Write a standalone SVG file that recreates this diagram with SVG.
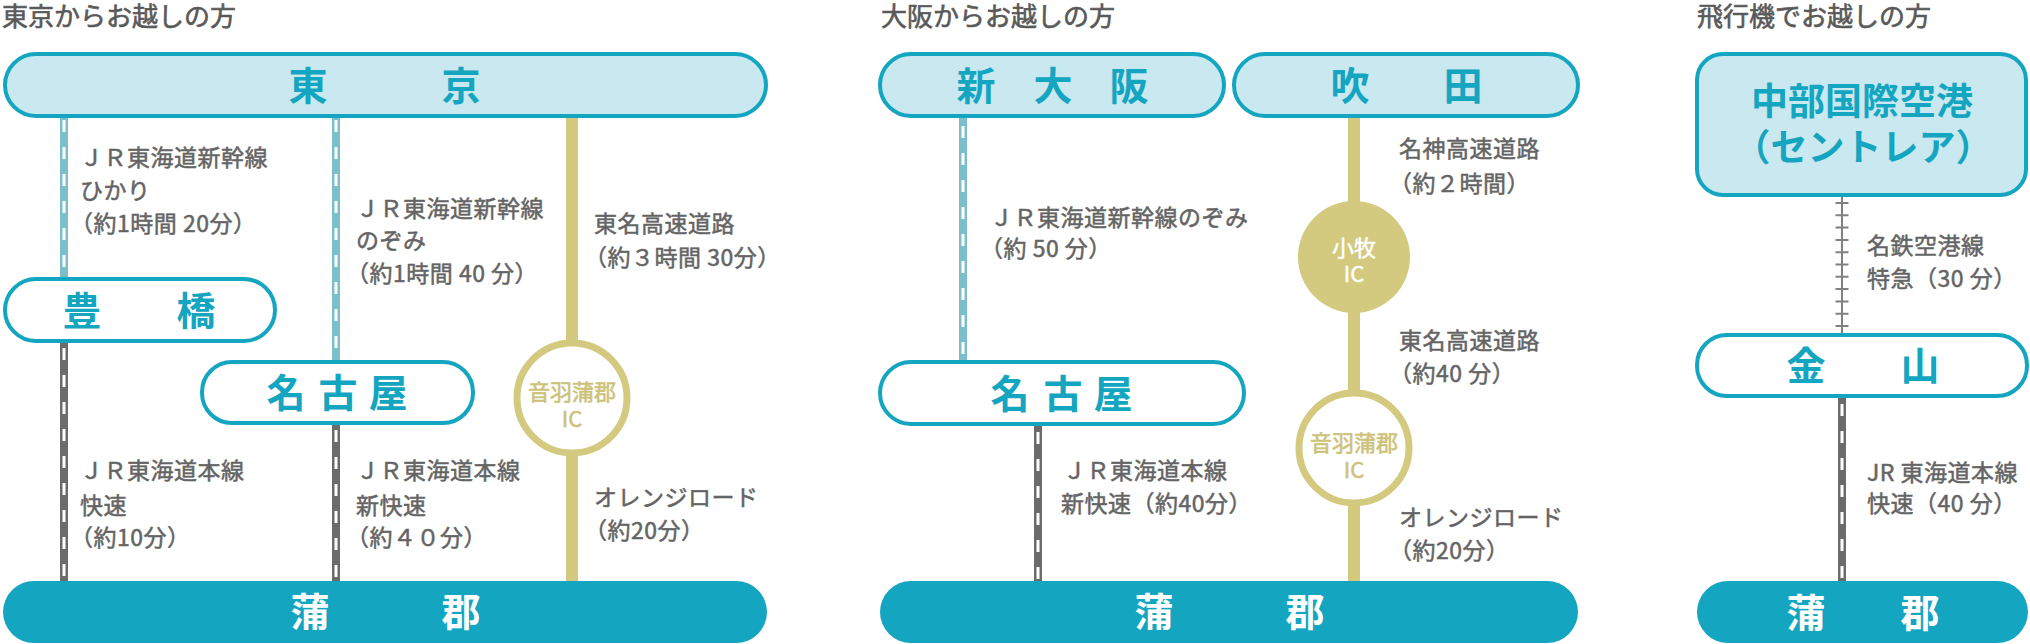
<svg xmlns="http://www.w3.org/2000/svg" width="2030" height="644" viewBox="0 0 2030 644">
<style>
text{font-family:"Noto Sans CJK JP","Noto Sans",sans-serif}
.hd{font-size:26px;fill:#595959;stroke:#595959;stroke-width:0.6px}
.lb{font-size:23px;fill:#646464;stroke:#646464;stroke-width:0.5px;letter-spacing:0.5px}
.st{font-size:39px;font-weight:700;fill:#14a5c0;text-anchor:middle}
.stw{font-size:39px;font-weight:700;fill:#fff;text-anchor:middle}
.box{stroke:#14a5c0;stroke-width:4;fill:#cae8ef}
.boxw{stroke:#14a5c0;stroke-width:4;fill:#fff}
.boxf{fill:#14a5c0}
.shk{stroke:#7bbfcb;stroke-width:8}
.hon{stroke:#6b6b6b;stroke-width:8}
.dash{stroke:#fff;stroke-width:3;stroke-dasharray:12 15}
.road{stroke:#d3ca80;stroke-width:12}
.ic{fill:#fff;stroke:#d3ca80;stroke-width:7}
.icf{fill:#d3ca80}
.ict{font-size:22px;fill:#cdc27a;stroke:#cdc27a;stroke-width:0.6px;text-anchor:middle}
.ictw{font-size:22px;fill:#fff;stroke:#fff;stroke-width:0.5px;text-anchor:middle}
.mei{stroke:#808080;stroke-width:2}
.tie{stroke:#808080;stroke-width:13;stroke-dasharray:2 10.3}
</style>

<g id="headings">
<text class="hd" x="2" y="26">東京からお越しの方</text>
<text class="hd" x="881" y="26">大阪からお越しの方</text>
<text class="hd" x="1697" y="26">飛行機でお越しの方</text>
</g>

<g id="connectors">
<line class="shk" x1="64" y1="118" x2="64" y2="277"/>
<line class="dash" x1="64" y1="120" x2="64" y2="277"/>
<line class="hon" x1="64" y1="343" x2="64" y2="581"/>
<line class="dash" x1="64" y1="348" x2="64" y2="581"/>
<line class="shk" x1="336" y1="118" x2="336" y2="360"/>
<line class="dash" x1="336" y1="120" x2="336" y2="360"/>
<line class="hon" x1="336" y1="425" x2="336" y2="581"/>
<line class="dash" x1="336" y1="430" x2="336" y2="581"/>
<line class="road" x1="572" y1="118" x2="572" y2="581"/>
<line class="shk" x1="963" y1="118" x2="963" y2="360"/>
<line class="dash" x1="963" y1="126" x2="963" y2="360"/>
<line class="hon" x1="1038" y1="426" x2="1038" y2="581"/>
<line class="dash" x1="1038" y1="432" x2="1038" y2="581"/>
<line class="road" x1="1354" y1="118" x2="1354" y2="581"/>
<line class="mei" x1="1842" y1="197" x2="1842" y2="333"/>
<line class="tie" x1="1842" y1="202" x2="1842" y2="333"/>
<line class="hon" x1="1842" y1="398" x2="1842" y2="581"/>
<line class="dash" x1="1842" y1="404" x2="1842" y2="581"/>
</g>

<g id="labels">
<text class="lb" x="80" y="166">ＪＲ東海道新幹線</text>
<text class="lb" x="80" y="199">ひかり</text>
<text class="lb" x="70" y="232">（約1時間 20分）</text>
<text class="lb" x="356" y="217">ＪＲ東海道新幹線</text>
<text class="lb" x="356" y="249">のぞみ</text>
<text class="lb" x="346" y="282">（約1時間 40 分）</text>
<text class="lb" x="594" y="232">東名高速道路</text>
<text class="lb" x="584" y="266">（約３時間 30分）</text>
<text class="lb" x="80" y="479">ＪＲ東海道本線</text>
<text class="lb" x="80" y="514">快速</text>
<text class="lb" x="70" y="546">（約10分）</text>
<text class="lb" x="356" y="479">ＪＲ東海道本線</text>
<text class="lb" x="356" y="514">新快速</text>
<text class="lb" x="346" y="546">（約４０分）</text>
<text class="lb" x="594" y="506">オレンジロード</text>
<text class="lb" x="584" y="539">（約20分）</text>
<text class="lb" x="990" y="226">ＪＲ東海道新幹線のぞみ</text>
<text class="lb" x="980" y="257">（約 50 分）</text>
<text class="lb" x="1063" y="479">ＪＲ東海道本線</text>
<text class="lb" x="1061" y="512">新快速（約40分）</text>
<text class="lb" x="1399" y="157">名神高速道路</text>
<text class="lb" x="1389" y="192">（約２時間）</text>
<text class="lb" x="1399" y="349">東名高速道路</text>
<text class="lb" x="1389" y="382">（約40 分）</text>
<text class="lb" x="1399" y="526">オレンジロード</text>
<text class="lb" x="1389" y="559">（約20分）</text>
<text class="lb" x="1867" y="254">名鉄空港線</text>
<text class="lb" x="1867" y="287">特急（30 分）</text>
<text class="lb" x="1867" y="481">JR 東海道本線</text>
<text class="lb" x="1867" y="512">快速（40 分）</text>
</g>

<g id="tokyo">
<rect class="box" x="5" y="54" width="761" height="62" rx="31"/>
<text class="st" y="100"><tspan x="308">東</tspan><tspan x="461">京</tspan></text>
</g>
<g id="toyohashi">
<rect class="boxw" x="5" y="279" width="270" height="62" rx="31"/>
<text class="st" y="325"><tspan x="82">豊</tspan><tspan x="196">橋</tspan></text>
</g>
<g id="nagoya-1">
<rect class="boxw" x="202" y="362" width="271" height="61" rx="30"/>
<text class="st" y="407"><tspan x="286">名</tspan><tspan x="338">古</tspan><tspan x="388">屋</tspan></text>
</g>
<g id="otowa-ic-1">
<circle class="ic" cx="572" cy="398" r="55"/>
<text class="ict" x="572" y="400">音羽蒲郡<tspan x="572" y="427">IC</tspan></text>
</g>
<g id="kamagori-1">
<rect class="boxf" x="3" y="581" width="764" height="62" rx="31"/>
<text class="stw" y="626"><tspan x="310">蒲</tspan><tspan x="461">郡</tspan></text>
</g>

<g id="shin-osaka">
<rect class="box" x="880" y="54" width="344" height="62" rx="31"/>
<text class="st" y="100"><tspan x="976">新</tspan><tspan x="1053">大</tspan><tspan x="1129">阪</tspan></text>
</g>
<g id="suita">
<rect class="box" x="1234" y="54" width="344" height="62" rx="31"/>
<text class="st" y="100"><tspan x="1350">吹</tspan><tspan x="1463">田</tspan></text>
</g>
<g id="komaki-ic">
<circle class="icf" cx="1354" cy="257" r="56"/>
<text class="ictw" x="1354" y="256">小牧<tspan x="1354" y="282">IC</tspan></text>
</g>
<g id="nagoya-2">
<rect class="boxw" x="880" y="362" width="364" height="62" rx="31"/>
<text class="st" y="408"><tspan x="1010">名</tspan><tspan x="1063">古</tspan><tspan x="1113">屋</tspan></text>
</g>
<g id="otowa-ic-2">
<circle class="ic" cx="1354" cy="448" r="55"/>
<text class="ict" x="1354" y="451">音羽蒲郡<tspan x="1354" y="478">IC</tspan></text>
</g>
<g id="kamagori-2">
<rect class="boxf" x="880" y="581" width="698" height="62" rx="31"/>
<text class="stw" y="626"><tspan x="1154">蒲</tspan><tspan x="1305">郡</tspan></text>
</g>

<g id="centrair">
<rect class="box" x="1697" y="54" width="329" height="141" rx="26"/>
<text class="st" style="font-size:37px" x="1862" y="115">中部国際空港</text>
<text class="st" style="font-size:37px" x="1863" y="161">（セントレア）</text>
</g>
<g id="kanayama">
<rect class="boxw" x="1697" y="335" width="330" height="61" rx="30"/>
<text class="st" y="380"><tspan x="1806">金</tspan><tspan x="1920">山</tspan></text>
</g>
<g id="kamagori-3">
<rect class="boxf" x="1697" y="581" width="331" height="62" rx="31"/>
<text class="stw" y="627"><tspan x="1806">蒲</tspan><tspan x="1920">郡</tspan></text>
</g>
</svg>
